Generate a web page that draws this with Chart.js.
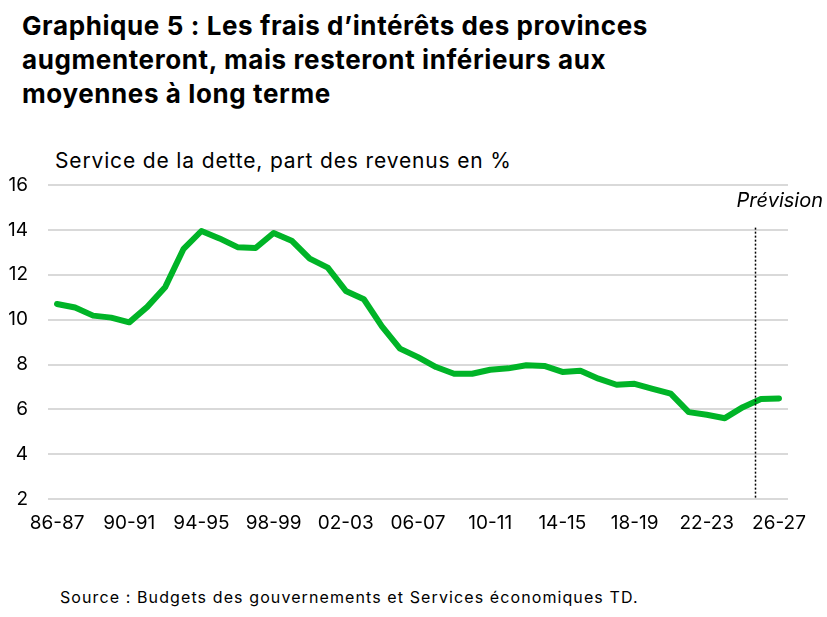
<!DOCTYPE html>
<html lang="fr">
<head>
<meta charset="utf-8">
<script src="https://cdn.jsdelivr.net/npm/chart.js@4.4.0/dist/chart.umd.min.js"></script>
<style>
    body { margin: 0; background: #fff; font-family: Inter, "Open Sans", sans-serif; color: #000; }
    #wrap { position: relative; width: 827px; height: 617px; overflow: hidden; }
    #title { position: absolute; left: 22px; top: 9px; font-size: 26px; font-weight: 700; line-height: 34px; letter-spacing: 0.6px; }
    #subtitle { position: absolute; left: 55px; top: 148px; font-size: 21px; letter-spacing: 0.85px; }
    #source { position: absolute; left: 60px; top: 587px; font-size: 16px; letter-spacing: 1.1px; }
    #box { position: absolute; left: 0; top: 145px; width: 827px; height: 410px; }
</style>
</head>
<body>
<div id="wrap">
    <div id="title">Graphique 5 : Les frais d’intérêts des provinces<br>augmenteront, mais resteront inférieurs aux<br>moyennes à long terme</div>
    <div id="subtitle">Service de la dette, part des revenus en %</div>
    <div id="box"><canvas id="chart"></canvas></div>
    <div id="source">Source : Budgets des gouvernements et Services économiques TD.</div>
</div>
<script>
    // Fiscal years 86-87 .. 26-27
    var years = [
        '86-87', '87-88', '88-89', '89-90', '90-91', '91-92', '92-93', '93-94', '94-95', '95-96',
        '96-97', '97-98', '98-99', '99-00', '00-01', '01-02', '02-03', '03-04', '04-05', '05-06',
        '06-07', '07-08', '08-09', '09-10', '10-11', '11-12', '12-13', '13-14', '14-15', '15-16',
        '16-17', '17-18', '18-19', '19-20', '20-21', '21-22', '22-23', '23-24', '24-25', '25-26',
        '26-27'
    ];

    // Debt service, share of revenues (%)
    var debtService = [
        10.7, 10.54, 10.18, 10.09, 9.88, 10.57, 11.46, 13.14, 13.95, 13.62,
        13.23, 13.19, 13.86, 13.52, 12.72, 12.32, 11.28, 10.91, 9.7, 8.71,
        8.33, 7.89, 7.59, 7.59, 7.77, 7.83, 7.97, 7.94, 7.67, 7.72,
        7.37, 7.1, 7.14, 6.92, 6.7, 5.88, 5.76, 5.61, 6.1, 6.46,
        6.49
    ];

    var yTicks = [2, 4, 6, 8, 10, 12, 14, 16];
    var forecastAt = 38.65; // position of the "Prévision" marker (category index)

    var forecastLine = {
        id: 'forecastLine',
        afterDatasetsDraw: function (chart) {
            var x = chart.scales.x;
            var y = chart.scales.y;
            var i = Math.floor(forecastAt);
            var p0 = x.getPixelForValue(i);
            var p1 = x.getPixelForValue(i + 1);
            var px = Math.round(p0 + (p1 - p0) * (forecastAt - i)) + 0.5;
            var ctx = chart.ctx;
            ctx.save();
            ctx.strokeStyle = '#000';
            ctx.lineWidth = 1.5;
            ctx.setLineDash([2, 2]);
            ctx.beginPath();
            ctx.moveTo(px, y.getPixelForValue(14.1));
            ctx.lineTo(px, y.getPixelForValue(2));
            ctx.stroke();
            ctx.setLineDash([]);
            ctx.fillStyle = '#000';
            ctx.font = 'italic 20px Inter, "Open Sans", sans-serif';
            ctx.textAlign = 'right';
            ctx.textBaseline = 'middle';
            ctx.fillText('Prévision', chart.width - 4, y.getPixelForValue(15.3));
            ctx.restore();
        }
    };

    new Chart(document.getElementById('chart'), {
        type: 'line',
        data: {
            labels: years,
            datasets: [{
                label: 'Service de la dette',
                data: debtService,
                borderColor: '#00b427',
                borderWidth: 6,
                pointRadius: 0,
                tension: 0,
                borderJoinStyle: 'round',
                borderCapStyle: 'round'
            }]
        },
        options: {
            responsive: true,
            maintainAspectRatio: false,
            animation: false,
            layout: {
                padding: { top: 40, left: 6, right: 39, bottom: 15 }
            },
            plugins: {
                legend: { display: false },
                tooltip: { enabled: false }
            },
            scales: {
                x: {
                    offset: true,
                    grid: { display: false },
                    border: { display: false },
                    afterFit: function (axis) {
                        axis.paddingLeft = 0;
                        axis.paddingRight = 0;
                    },
                    ticks: {
                        autoSkip: false,
                        maxRotation: 0,
                        padding: 5,
                        color: '#000',
                        font: { size: 19, family: 'Inter, "Open Sans", sans-serif' },
                        callback: function (value, index) {
                            return index % 4 === 0 ? years[index] : '';
                        }
                    }
                },
                y: {
                    min: 2,
                    max: 16,
                    afterBuildTicks: function (axis) {
                        axis.ticks = yTicks.map(function (v) { return { value: v }; });
                    },
                    afterFit: function (axis) {
                        axis.width = 42;
                    },
                    grid: { color: '#d9d9d9', lineWidth: 2, drawTicks: false },
                    border: { display: false },
                    ticks: {
                        padding: 20,
                        color: '#000',
                        font: { size: 19, family: 'Inter, "Open Sans", sans-serif' }
                    }
                }
            }
        },
        plugins: [forecastLine]
    });
</script>
</body>
</html>
